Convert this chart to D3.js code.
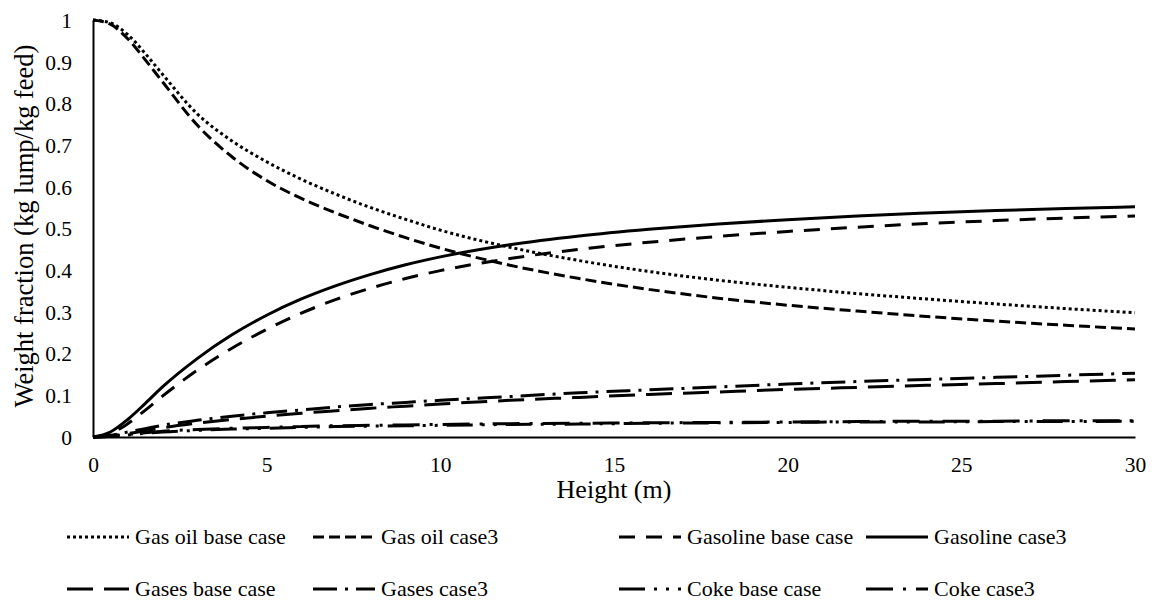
<!DOCTYPE html>
<html lang="en">
<head>
  <meta charset="UTF-8">
  <title>Weight fraction vs height</title>
  <style>
    body { margin: 0; background: #fff; }
    svg { display: block; }
    svg text { font-family: 'Liberation Serif', 'DejaVu Serif', serif; fill: #000; }
    .curve { fill: none; stroke: #000; stroke-width: 3px; }
  </style>
</head>
<body>
  <script src="https://d3js.org/d3.v7.min.js"></script>
  <svg id="chart" width="1156" height="601"></svg>
  <script>
    // data
    const heights = [0, 0.5, 1, 1.5, 2, 3, 4, 5, 6, 7, 8, 9, 10, 12, 14, 16, 18, 20, 22, 24, 26, 28, 30]
    const gasOilBase = [1, 0.993, 0.965, 0.92, 0.87, 0.775, 0.71, 0.66, 0.618, 0.582, 0.55, 0.522, 0.496, 0.455, 0.423, 0.397, 0.376, 0.359, 0.344, 0.331, 0.319, 0.308, 0.298]
    const gasOilCase3 = [1, 0.99, 0.955, 0.905, 0.852, 0.748, 0.672, 0.615, 0.572, 0.537, 0.506, 0.478, 0.453, 0.412, 0.38, 0.354, 0.333, 0.316, 0.302, 0.289, 0.278, 0.268, 0.259]
    const gasolineBase = [0, 0.008, 0.032, 0.064, 0.098, 0.16, 0.213, 0.258, 0.297, 0.33, 0.357, 0.38, 0.399, 0.428, 0.45, 0.467, 0.481, 0.493, 0.503, 0.512, 0.519, 0.525, 0.53]
    const gasolineCase3 = [0, 0.012, 0.042, 0.08, 0.12, 0.188, 0.245, 0.292, 0.331, 0.363, 0.39, 0.413, 0.432, 0.461, 0.482, 0.498, 0.511, 0.521, 0.53, 0.537, 0.543, 0.548, 0.552]
    const gasesBase = [0, 0.003, 0.008, 0.015, 0.022, 0.033, 0.042, 0.05, 0.057, 0.063, 0.069, 0.074, 0.079, 0.088, 0.095, 0.102, 0.108, 0.114, 0.119, 0.124, 0.128, 0.133, 0.137]
    const gasesCase3 = [0, 0.004, 0.012, 0.02, 0.028, 0.04, 0.05, 0.058, 0.065, 0.072, 0.078, 0.083, 0.088, 0.097, 0.106, 0.113, 0.12, 0.127, 0.133, 0.138, 0.143, 0.148, 0.153]
    const cokeBase = [0, 0.002, 0.005, 0.009, 0.012, 0.016, 0.019, 0.021, 0.023, 0.025, 0.026, 0.027, 0.028, 0.03, 0.031, 0.033, 0.034, 0.035, 0.036, 0.036, 0.037, 0.037, 0.038]
    const cokeCase3 = [0, 0.002, 0.006, 0.01, 0.014, 0.018, 0.021, 0.023, 0.025, 0.027, 0.028, 0.029, 0.03, 0.032, 0.033, 0.034, 0.035, 0.036, 0.037, 0.038, 0.038, 0.039, 0.039]
    const seriesNames = ['Gas oil base case', 'Gas oil case3', 'Gasoline base case', 'Gasoline case3',
      'Gases base case', 'Gases case3', 'Coke base case', 'Coke case3']
    const xTicks = [0, 5, 10, 15, 20, 25, 30]
    const yTicks = [0, 0.1, 0.2, 0.3, 0.4, 0.5, 0.6, 0.7, 0.8, 0.9, 1]

    // line styles, same order as seriesNames
    const dashes = ['3,3', '11,5', '16,11', null, '26,11', '24,8,3,8', '26,9,3,9,3,9', '27,10,3,10']

    const allValues = [gasOilBase, gasOilCase3, gasolineBase, gasolineCase3, gasesBase, gasesCase3, cokeBase, cokeCase3]
    const series = seriesNames.map((name, i) => ({
      name: name,
      dash: dashes[i],
      points: heights.map((h, j) => ({ h: h, v: allValues[i][j] }))
    }))

    const plotLeft = 93, plotRight = 1135, plotTop = 20, plotBottom = 437
    const serif = "'Liberation Serif', 'DejaVu Serif', serif"
    const svg = d3.select('#chart')

    let x = d3.scaleLinear().domain([0, 30]).range([plotLeft, plotRight])
    let y = d3.scaleLinear().domain([0, 1]).range([plotBottom, plotTop])

    // axes, no tick marks
    let xAxis = svg.append('g')
      .attr('transform', `translate(0, ${plotBottom})`)
      .call(d3.axisBottom(x).tickValues(xTicks).tickSize(0).tickPadding(0).tickFormat(d3.format('d')))
    let yAxis = svg.append('g')
      .attr('transform', `translate(${plotLeft}, 0)`)
      .call(d3.axisLeft(y).tickValues(yTicks).tickSize(0).tickPadding(0).tickFormat(d => d3.format('~g')(d)))
    xAxis.attr('font-family', serif).attr('font-size', 21.5)
    yAxis.attr('font-family', serif).attr('font-size', 21.5)
    xAxis.select('.domain').attr('stroke', '#000').attr('stroke-width', 2)
    yAxis.select('.domain').attr('stroke', '#000').attr('stroke-width', 2)
    xAxis.selectAll('text').attr('y', 35).attr('dy', null)
    yAxis.selectAll('text').attr('x', -21).attr('dy', '0.34em')

    // axis titles
    svg.append('text')
      .attr('x', (plotLeft + plotRight) / 2)
      .attr('y', 498)
      .attr('text-anchor', 'middle')
      .attr('font-family', serif)
      .attr('font-size', 26)
      .text('Height (m)')
    svg.append('text')
      .attr('transform', `translate(33, 226) rotate(-90)`)
      .attr('text-anchor', 'middle')
      .attr('font-family', serif)
      .attr('font-size', 26.5)
      .text('Weight fraction (kg lump/kg feed)')

    // curves
    let line = d3.line()
      .x(d => x(d.h))
      .y(d => y(d.v))
      .curve(d3.curveMonotoneX)
    svg.append('g').selectAll('path')
      .data(series)
      .enter()
      .append('path')
      .attr('class', 'curve')
      .attr('d', d => line(d.points))
      .attr('stroke-dasharray', d => d.dash)

    // legend, 4 columns x 2 rows
    let colX = [67, 313, 619, 866]
    let rowY = [537, 589]
    let legend = svg.append('g').selectAll('g')
      .data(series)
      .enter()
      .append('g')
      .attr('transform', (d, i) => `translate(${colX[i % 4]}, ${rowY[Math.floor(i / 4)]})`)
    legend.append('line')
      .attr('class', 'curve')
      .attr('x1', 0)
      .attr('x2', 62)
      .attr('stroke-dasharray', d => d.dash)
    legend.append('text')
      .attr('x', 68)
      .attr('y', 7)
      .attr('font-family', serif)
      .attr('font-size', 22)
      .text(d => d.name)
  </script>
</body>
</html>
